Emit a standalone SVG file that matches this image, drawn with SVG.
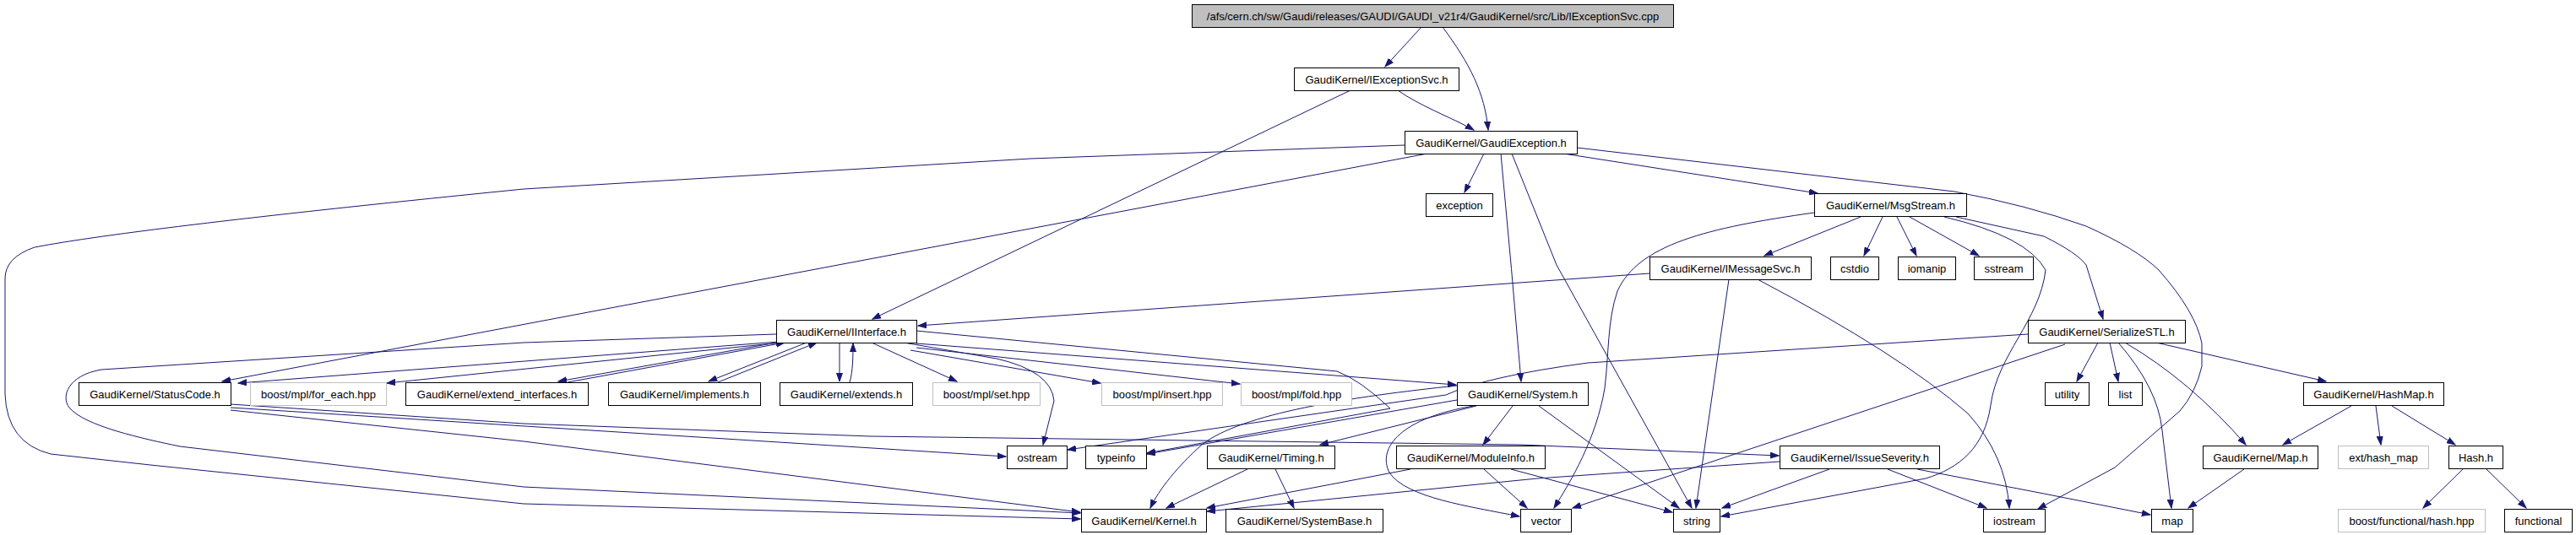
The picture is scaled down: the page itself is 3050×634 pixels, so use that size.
<svg xmlns="http://www.w3.org/2000/svg" width="3050" height="634" viewBox="0 0 3050 634">
<style>
rect{fill:#fff;stroke:#000;stroke-width:1}
.gr rect{stroke:#bfbfbf}
.root rect{fill:#bfbfbf}
text{font-family:"Liberation Sans",Arial,sans-serif;font-size:13px;text-anchor:middle;fill:#000}
#edges path{fill:none;stroke:#191970;stroke-width:1;marker-end:url(#a)}
</style>
<defs>
<marker id="a" markerWidth="11" markerHeight="8" refX="10" refY="4" orient="auto" markerUnits="userSpaceOnUse">
<path d="M0,0.5 L10,4 L0,7.5 z" fill="#191970" stroke="#191970" stroke-width="1"/>
</marker>
</defs>
<rect x="0" y="0" width="3050" height="634" style="fill:#fff;stroke:none"/>
<g id="edges">
<path d="M1683,32 L1640,79"/>
<path d="M1708,32 C1740,75 1758,110 1762,154"/>
<path d="M1655,107 C1680,125 1720,140 1745,154"/>
<path d="M1599,107 L1033,378"/>
<path d="M1757,182 L1734,228"/>
<path d="M1851,182 L2152,229"/>
<path d="M1690,182 L263,452"/>
<path d="M1663,172 L1220,188 L620,224 Q160,270 41,293 Q6,305 6,330 L6,467 Q8,525 60,538 L178,551 L620,597 L1279,615"/>
<path d="M1777,182 Q1790,320 1801,452"/>
<path d="M1790,182 L1843,314 L2003,602"/>
<path d="M1867,175 L2314,227 Q2400,243 2470,268 Q2530,295 2556,320 Q2600,370 2607,407 L2607,434 Q2600,465 2581,487 L2504,554 L2413,603"/>
<path d="M2203,257 L2089,303"/>
<path d="M2229,257 L2207,303"/>
<path d="M2246,257 L2269,303"/>
<path d="M2261,257 L2343,303"/>
<path d="M2316,257 L2420,280 Q2460,300 2470,314 L2490,378"/>
<path d="M2302,257 Q2400,280 2422,320 C2415,380 2365,420 2357,480 C2350,530 2320,555 2280,567 L2038,612"/>
<path d="M2148,252 C2020,270 1940,290 1915,345 C1903,380 1905,420 1900,460 C1890,520 1860,570 1840,602"/>
<path d="M1953,324 L1087,386"/>
<path d="M2047,331 L2008,602"/>
<path d="M2081,331 Q2250,420 2330,490 Q2375,540 2379,602"/>
<path d="M2484,406 L2459,452"/>
<path d="M2498,406 L2508,452"/>
<path d="M2508,406 Q2555,460 2560,510 L2571,602"/>
<path d="M2516,406 Q2593,451 2659,527"/>
<path d="M2553,406 L2754,452"/>
<path d="M2445,408 L1862,602"/>
<path d="M2401,396 L1880,430 Q1760,446 1712,468 L1264,533"/>
<path d="M1748,481 L1563,527"/>
<path d="M1791,481 L1756,527"/>
<path d="M1822,481 L1988,602"/>
<path d="M1745,481 C1660,495 1630,530 1645,560 C1665,590 1740,600 1799,612"/>
<path d="M1725,474 L1358,538"/>
<path d="M1725,457 C1600,470 1470,490 1423,527 C1395,552 1372,580 1362,602"/>
<path d="M1085,407 L1724,456"/>
<path d="M1085,412 L1468,455"/>
<path d="M1078,415 L1303,454"/>
<path d="M1070,406 L1180,425 Q1245,440 1248,475 L1235,527"/>
<path d="M1032,406 L1133,452"/>
<path d="M1085,392 L1583,440 Q1610,450 1646,484 L1358,537"/>
<path d="M922,405 L282,454"/>
<path d="M925,406 L458,454"/>
<path d="M919,396 L620,406 L120,438 C80,445 72,470 82,483 C100,505 170,520 213,529 L620,577 L1279,608"/>
<path d="M925,405 L661,452"/>
<path d="M672,453 L929,406"/>
<path d="M955,406 L839,452"/>
<path d="M850,453 L967,406"/>
<path d="M994,406 L994,452"/>
<path d="M1006,453 C1010,440 1010,420 1010,407"/>
<path d="M273,479 L620,502 L1030,517 L1800,527 L2106,540"/>
<path d="M273,483 L1191,541"/>
<path d="M273,486 L620,523 L1279,607"/>
<path d="M1477,556 L1381,602"/>
<path d="M1510,556 L1532,602"/>
<path d="M1670,556 L1429,602"/>
<path d="M1757,556 L1808,602"/>
<path d="M1789,556 L1980,607"/>
<path d="M2107,547 L1820,567 L1429,606"/>
<path d="M2166,556 L2039,602"/>
<path d="M2235,556 L2352,602"/>
<path d="M2270,556 L2420,585 L2546,610"/>
<path d="M2784,481 L2703,527"/>
<path d="M2813,481 L2819,527"/>
<path d="M2832,481 L2907,527"/>
<path d="M2657,556 L2591,602"/>
<path d="M2916,556 L2869,602"/>
<path d="M2944,556 L2991,602"/>
</g>
<g id="n_root" class="root"><rect x="1411.5" y="5.5" width="570" height="27"/><text x="1696.5" y="23.5">/afs/cern.ch/sw/Gaudi/releases/GAUDI/GAUDI_v21r4/GaudiKernel/src/Lib/IExceptionSvc.cpp</text></g>
<g id="n_IExceptionSvc"><rect x="1532.5" y="80.5" width="195" height="27"/><text x="1630" y="98.5">GaudiKernel/IExceptionSvc.h</text></g>
<g id="n_GaudiException"><rect x="1663.5" y="155.5" width="204" height="27"/><text x="1765.5" y="173.5">GaudiKernel/GaudiException.h</text></g>
<g id="n_exception"><rect x="1688.5" y="229.5" width="79" height="27"/><text x="1728" y="247.5">exception</text></g>
<g id="n_MsgStream"><rect x="2148.5" y="229.5" width="180" height="27"/><text x="2238.5" y="247.5">GaudiKernel/MsgStream.h</text></g>
<g id="n_IMessageSvc"><rect x="1953.5" y="304.5" width="191" height="27"/><text x="2049" y="322.5">GaudiKernel/IMessageSvc.h</text></g>
<g id="n_cstdio"><rect x="2167.5" y="304.5" width="57" height="27"/><text x="2196" y="322.5">cstdio</text></g>
<g id="n_iomanip"><rect x="2247.5" y="304.5" width="68" height="27"/><text x="2281.5" y="322.5">iomanip</text></g>
<g id="n_sstream"><rect x="2337.5" y="304.5" width="70" height="27"/><text x="2372.5" y="322.5">sstream</text></g>
<g id="n_IInterface"><rect x="919.5" y="379.5" width="166" height="27"/><text x="1002.5" y="397.5">GaudiKernel/IInterface.h</text></g>
<g id="n_SerializeSTL"><rect x="2401.5" y="379.5" width="186" height="27"/><text x="2494.5" y="397.5">GaudiKernel/SerializeSTL.h</text></g>
<g id="n_StatusCode"><rect x="93.5" y="453.5" width="180" height="27"/><text x="183.5" y="471.5">GaudiKernel/StatusCode.h</text></g>
<g id="n_for_each" class="gr"><rect x="296.5" y="453.5" width="161" height="27"/><text x="377" y="471.5">boost/mpl/for_each.hpp</text></g>
<g id="n_extend_interfaces"><rect x="480.5" y="453.5" width="216" height="27"/><text x="588.5" y="471.5">GaudiKernel/extend_interfaces.h</text></g>
<g id="n_implements"><rect x="720.5" y="453.5" width="180" height="27"/><text x="810.5" y="471.5">GaudiKernel/implements.h</text></g>
<g id="n_extends"><rect x="923.5" y="453.5" width="157" height="27"/><text x="1002" y="471.5">GaudiKernel/extends.h</text></g>
<g id="n_set" class="gr"><rect x="1104.5" y="453.5" width="127" height="27"/><text x="1168" y="471.5">boost/mpl/set.hpp</text></g>
<g id="n_insert" class="gr"><rect x="1304.5" y="453.5" width="143" height="27"/><text x="1376" y="471.5">boost/mpl/insert.hpp</text></g>
<g id="n_fold" class="gr"><rect x="1469.5" y="453.5" width="131" height="27"/><text x="1535" y="471.5">boost/mpl/fold.hpp</text></g>
<g id="n_System"><rect x="1725.5" y="453.5" width="155" height="27"/><text x="1803" y="471.5">GaudiKernel/System.h</text></g>
<g id="n_utility"><rect x="2421.5" y="453.5" width="52" height="27"/><text x="2447.5" y="471.5">utility</text></g>
<g id="n_list"><rect x="2496.5" y="453.5" width="40" height="27"/><text x="2516.5" y="471.5">list</text></g>
<g id="n_HashMap"><rect x="2727.5" y="453.5" width="166" height="27"/><text x="2810.5" y="471.5">GaudiKernel/HashMap.h</text></g>
<g id="n_ostream"><rect x="1192.5" y="528.5" width="71" height="27"/><text x="1228" y="546.5">ostream</text></g>
<g id="n_typeinfo"><rect x="1285.5" y="528.5" width="72" height="27"/><text x="1321.5" y="546.5">typeinfo</text></g>
<g id="n_Timing"><rect x="1429.5" y="528.5" width="151" height="27"/><text x="1505" y="546.5">GaudiKernel/Timing.h</text></g>
<g id="n_ModuleInfo"><rect x="1653.5" y="528.5" width="176" height="27"/><text x="1741.5" y="546.5">GaudiKernel/ModuleInfo.h</text></g>
<g id="n_IssueSeverity"><rect x="2107.5" y="528.5" width="189" height="27"/><text x="2202" y="546.5">GaudiKernel/IssueSeverity.h</text></g>
<g id="n_Map"><rect x="2608.5" y="528.5" width="136" height="27"/><text x="2676.5" y="546.5">GaudiKernel/Map.h</text></g>
<g id="n_ext_hash_map" class="gr"><rect x="2768.5" y="528.5" width="107" height="27"/><text x="2822" y="546.5">ext/hash_map</text></g>
<g id="n_Hash"><rect x="2899.5" y="528.5" width="64" height="27"/><text x="2931.5" y="546.5">Hash.h</text></g>
<g id="n_Kernel"><rect x="1280.5" y="603.5" width="148" height="27"/><text x="1354.5" y="621.5">GaudiKernel/Kernel.h</text></g>
<g id="n_SystemBase"><rect x="1451.5" y="603.5" width="186" height="27"/><text x="1544.5" y="621.5">GaudiKernel/SystemBase.h</text></g>
<g id="n_vector"><rect x="1800.5" y="603.5" width="60" height="27"/><text x="1830.5" y="621.5">vector</text></g>
<g id="n_string"><rect x="1981.5" y="603.5" width="55" height="27"/><text x="2009" y="621.5">string</text></g>
<g id="n_iostream"><rect x="2348.5" y="603.5" width="73" height="27"/><text x="2385" y="621.5">iostream</text></g>
<g id="n_map"><rect x="2547.5" y="603.5" width="49" height="27"/><text x="2572" y="621.5">map</text></g>
<g id="n_functional_hash" class="gr"><rect x="2768.5" y="603.5" width="174" height="27"/><text x="2855.5" y="621.5">boost/functional/hash.hpp</text></g>
<g id="n_functional"><rect x="2965.5" y="603.5" width="80" height="27"/><text x="3005.5" y="621.5">functional</text></g>
</svg>
